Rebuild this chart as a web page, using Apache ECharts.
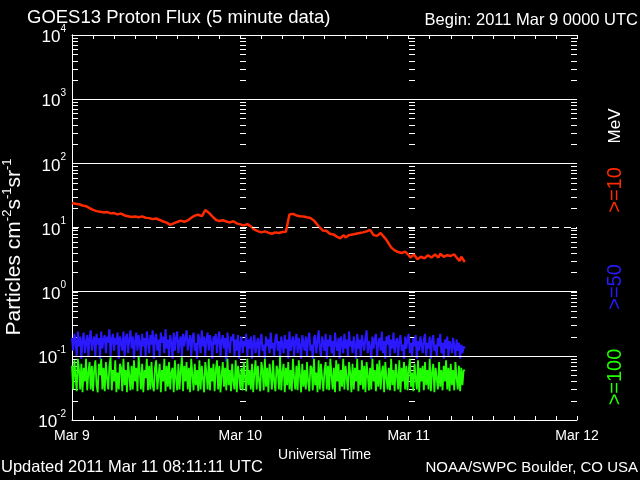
<!DOCTYPE html>
<html>
<head>
<meta charset="utf-8">
<script src="https://cdn.jsdelivr.net/npm/echarts@6/dist/echarts.min.js"></script>
<style>
html, body { margin: 0; background: #000; }
#main { width: 640px; height: 480px; }
</style>
</head>
<body>
<div id="main"></div>
<script>
// x in hours since 2011 Mar 9 0000 UTC
const dayLabels = ['Mar 9', 'Mar 10', 'Mar 11', 'Mar 12'];

// >=10 MeV, one value every 15 min
const redStep = 0.25;
const red10 = [
  24.1, 22.8, 23.5, 24.2, 23.0, 21.6, 22.0, 22.9, 21.5, 20.3,
  20.0, 19.0, 18.8, 18.3, 18.0, 17.0, 17.6, 18.1, 17.2, 16.8,
  17.5, 16.9, 16.6, 17.3, 16.8, 15.9, 16.0, 16.7, 16.5, 15.6,
  15.4, 15.8, 15.0, 14.4, 14.6, 15.3, 14.8, 14.0, 14.4, 15.1,
  14.9, 14.5, 14.2, 13.6, 14.0, 14.3, 13.5, 13.2, 13.8, 13.4,
  13.1, 12.7, 12.4, 11.7, 11.9, 11.2, 11.0, 10.6, 11.6, 12.4,
  12.2, 11.8, 12.8, 13.4, 12.3, 12.0, 12.9, 13.6, 14.2, 14.8,
  15.3, 14.7, 15.8, 16.3, 15.0, 16.5, 18.7, 18.0, 17.0, 16.0,
  14.9, 13.9, 13.2, 12.5, 12.6, 13.3, 13.0, 12.2, 12.4, 12.8,
  12.0, 11.6, 12.5, 12.0, 11.6, 11.0, 11.2, 11.6, 10.8, 10.3,
  11.3, 10.9, 10.4, 9.8, 9.3, 9.0, 8.8, 8.3, 8.4, 8.9,
  8.7, 8.1, 8.3, 8.6, 8.0, 7.8, 8.4, 8.6, 8.2, 7.9,
  8.5, 8.2, 8.6, 8.9, 16.0, 15.5, 16.3, 15.8, 15.4, 15.7,
  15.0, 14.5, 14.8, 14.2, 14.4, 14.7, 14.1, 13.6, 12.8, 12.0,
  11.0, 10.2, 9.5, 9.0, 8.6, 8.9, 8.4, 8.0, 8.2, 7.8,
  7.5, 7.2, 7.1, 6.8, 7.3, 7.6, 7.0, 7.4, 7.6, 8.0,
  7.8, 7.5, 8.0, 8.3, 8.2, 7.9, 8.4, 8.6, 8.7, 8.3,
  9.2, 8.9, 7.6, 7.3, 7.4, 7.9, 8.2, 7.6, 7.2, 6.6,
  6.0, 5.4, 4.9, 4.6, 4.4, 4.2, 4.15, 4.3, 4.0, 3.8,
  4.2, 4.0, 3.7, 3.4, 3.5, 3.8, 3.6, 3.2, 3.3, 3.5,
  3.6, 3.3, 3.4, 3.7, 3.7, 3.4, 3.5, 3.8, 3.6, 3.4,
  3.9, 4.0, 3.5, 3.3, 3.7, 3.9, 3.6, 3.4, 3.8, 3.5,
  3.3, 3.0, 3.5, 3.4, 2.9
];

// >=50 and >=100 MeV, one value every 10 min
const pStep = 1 / 6;
const blue50 = [
  0.19,0.12,0.22,0.17,0.1,0.24,0.14,0.2,0.09,0.18,0.23,0.11,0.16,0.21,0.1,0.19,0.25,0.12,0.17,0.2,
  0.1,0.22,0.15,0.19,0.09,0.24,0.13,0.18,0.21,0.11,0.2,0.16,0.26,0.1,0.18,0.22,0.12,0.19,0.15,0.23,
  0.09,0.2,0.17,0.12,0.24,0.1,0.19,0.22,0.11,0.18,0.25,0.13,0.2,0.09,0.17,0.23,0.12,0.21,0.16,0.1,
  0.22,0.14,0.19,0.1,0.24,0.17,0.11,0.21,0.15,0.25,0.09,0.19,0.22,0.12,0.18,0.1,0.23,0.16,0.2,0.11,
  0.26,0.13,0.18,0.1,0.21,0.16,0.09,0.23,0.12,0.19,0.24,0.11,0.17,0.2,0.1,0.22,0.14,0.19,0.25,0.12,
  0.17,0.21,0.1,0.19,0.23,0.12,0.16,0.09,0.22,0.18,0.11,0.25,0.14,0.2,0.1,0.18,0.23,0.12,0.21,0.16,
  0.09,0.2,0.15,0.22,0.11,0.18,0.24,0.1,0.17,0.21,0.13,0.19,0.08,0.23,0.15,0.11,0.2,0.17,0.22,0.1,
  0.18,0.12,0.21,0.09,0.16,0.2,0.11,0.17,0.14,0.22,0.1,0.18,0.13,0.2,0.09,0.16,0.21,0.11,0.15,0.19,
  0.1,0.17,0.22,0.12,0.15,0.09,0.2,0.14,0.18,0.11,0.23,0.13,0.16,0.1,0.19,0.22,0.12,0.17,0.09,0.2,
  0.15,0.11,0.21,0.13,0.18,0.09,0.24,0.12,0.16,0.2,0.1,0.17,0.22,0.11,0.19,0.14,0.09,0.21,0.16,0.12,
  0.2,0.1,0.18,0.23,0.12,0.15,0.09,0.19,0.21,0.11,0.17,0.25,0.13,0.1,0.2,0.16,0.12,0.22,0.09,0.18,
  0.14,0.21,0.11,0.17,0.1,0.23,0.15,0.12,0.19,0.09,0.2,0.16,0.11,0.22,0.13,0.18,0.1,0.24,0.14,0.17,
  0.11,0.2,0.15,0.09,0.22,0.13,0.18,0.1,0.21,0.16,0.12,0.19,0.25,0.11,0.17,0.14,0.09,0.2,0.13,0.18,
  0.22,0.1,0.16,0.19,0.12,0.24,0.11,0.17,0.09,0.2,0.15,0.21,0.1,0.18,0.13,0.23,0.11,0.16,0.19,0.1,
  0.17,0.21,0.12,0.15,0.09,0.2,0.13,0.18,0.22,0.11,0.16,0.1,0.19,0.14,0.21,0.09,0.17,0.12,0.2,0.15,
  0.11,0.18,0.22,0.1,0.16,0.13,0.2,0.09,0.17,0.21,0.12,0.15,0.1,0.19,0.14,0.22,0.11,0.16,0.09,0.18,
  0.13,0.2,0.1,0.17,0.15,0.11,0.19,0.14,0.1,0.18,0.12,0.16,0.09,0.15,0.11,0.14,0.13
];
const green100 = [
  0.07,0.03,0.085,0.05,0.028,0.09,0.06,0.03,0.075,0.027,0.065,0.04,0.09,0.029,0.055,0.08,0.03,0.07,0.028,0.06,
  0.085,0.035,0.027,0.075,0.05,0.09,0.03,0.065,0.028,0.08,0.045,0.03,0.07,0.095,0.029,0.06,0.04,0.085,0.027,0.055,
  0.03,0.075,0.065,0.028,0.09,0.035,0.06,0.027,0.08,0.05,0.029,0.07,0.03,0.085,0.04,0.065,0.028,0.1,0.055,0.03,
  0.075,0.027,0.06,0.045,0.09,0.029,0.07,0.03,0.08,0.035,0.028,0.065,0.085,0.03,0.05,0.075,0.027,0.06,0.04,0.09,
  0.028,0.07,0.033,0.08,0.03,0.055,0.065,0.027,0.085,0.045,0.029,0.075,0.03,0.06,0.095,0.028,0.07,0.04,0.08,0.03,
  0.065,0.027,0.09,0.05,0.029,0.075,0.035,0.06,0.028,0.085,0.03,0.07,0.045,0.027,0.08,0.055,0.03,0.09,0.029,0.065,
  0.04,0.075,0.028,0.06,0.085,0.03,0.07,0.027,0.05,0.08,0.033,0.065,0.029,0.09,0.035,0.06,0.028,0.075,0.04,0.03,
  0.085,0.027,0.07,0.05,0.03,0.065,0.029,0.08,0.045,0.028,0.09,0.035,0.06,0.03,0.075,0.027,0.055,0.085,0.03,0.07,
  0.04,0.028,0.08,0.06,0.029,0.09,0.033,0.065,0.027,0.075,0.05,0.03,0.085,0.04,0.028,0.07,0.06,0.03,0.1,0.029,
  0.055,0.075,0.027,0.065,0.035,0.08,0.03,0.06,0.028,0.09,0.045,0.03,0.07,0.029,0.085,0.05,0.027,0.075,0.033,0.06,
  0.03,0.08,0.04,0.028,0.07,0.065,0.029,0.09,0.035,0.055,0.027,0.085,0.03,0.075,0.045,0.028,0.06,0.08,0.03,0.07,
  0.029,0.09,0.05,0.03,0.065,0.027,0.085,0.04,0.075,0.028,0.06,0.033,0.09,0.03,0.07,0.045,0.029,0.08,0.055,0.027,
  0.075,0.03,0.065,0.04,0.09,0.028,0.06,0.035,0.085,0.03,0.07,0.027,0.08,0.05,0.029,0.065,0.03,0.09,0.04,0.06,
  0.028,0.075,0.033,0.085,0.03,0.055,0.07,0.027,0.08,0.045,0.03,0.065,0.029,0.09,0.035,0.06,0.028,0.075,0.05,0.03,
  0.085,0.027,0.065,0.04,0.08,0.03,0.07,0.029,0.06,0.09,0.033,0.055,0.028,0.075,0.045,0.03,0.085,0.027,0.065,0.04,
  0.07,0.029,0.08,0.035,0.06,0.03,0.09,0.028,0.055,0.075,0.027,0.065,0.045,0.03,0.08,0.033,0.06,0.029,0.07,0.04,
  0.085,0.03,0.065,0.028,0.075,0.035,0.06,0.029,0.08,0.045,0.03,0.07,0.028,0.065,0.035,0.06,0.058
];

const FONT = 'Liberation Sans';
const toPairs = (arr, step) => arr.map((v, i) => [i * step, v]);

// log tick marks: [hour, value, direction]
const logTicks = [];
for (let e = -2; e < 4; e++) {
  for (let k = 1; k < 10; k++) {
    const v = k * Math.pow(10, e);
    [0, 24, 48].forEach(h => logTicks.push([h, v, 1]));
    logTicks.push([72, v, -1]);
  }
}
[0, 24, 48].forEach(h => logTicks.push([h, 10000, 1]));

const chart = echarts.init(document.getElementById('main'));
chart.setOption({
  backgroundColor: '#000',
  animation: false,
  textStyle: { fontFamily: FONT },
  grid: { left: 72, right: 63, top: 35, bottom: 60, outerBoundsMode: 'none' },
  xAxis: [
    {
      type: 'value', min: 0, max: 72, interval: 3,
      axisLine: { lineStyle: { color: '#fff', width: 1 } },
      axisTick: { inside: true, length: 4, lineStyle: { color: '#fff' } },
      splitLine: { show: false },
      axisLabel: {
        color: '#fff', fontSize: 14, margin: 9,
        formatter: v => v % 24 === 0 ? dayLabels[v / 24] : ''
      },
      name: 'Universal Time', nameLocation: 'middle', nameGap: 20,
      nameTextStyle: { color: '#fff', fontSize: 14, fontFamily: FONT }
    },
    {
      type: 'value', position: 'top', min: 0, max: 72, interval: 3,
      axisLine: { lineStyle: { color: '#fff', width: 1 } },
      axisTick: { inside: true, length: 4, lineStyle: { color: '#fff' } },
      splitLine: { show: false },
      axisLabel: { show: false }
    }
  ],
  yAxis: [
    {
      type: 'log', logBase: 10, min: 0.01, max: 10000,
      axisLine: { show: true, lineStyle: { color: '#fff', width: 1 } },
      axisTick: { show: false },
      splitLine: { show: false },
      axisLabel: {
        margin: 6,
        formatter: v => '{b|10}{e|' + Math.round(Math.log10(v)) + '}',
        rich: {
          b: { color: '#fff', fontSize: 17, fontFamily: FONT, lineHeight: 22, verticalAlign: 'bottom' },
          e: { color: '#fff', fontSize: 10, fontFamily: FONT, lineHeight: 22, verticalAlign: 'top' }
        }
      }
    },
    {
      type: 'log', logBase: 10, min: 0.01, max: 10000, position: 'right',
      axisLine: { show: true, lineStyle: { color: '#fff', width: 1 } },
      axisTick: { show: false },
      splitLine: { show: false },
      axisLabel: { show: false }
    }
  ],
  series: [
    {
      name: 'ticks', type: 'custom', silent: true, clip: false,
      data: logTicks,
      renderItem: (params, api) => {
        const p = api.coord([api.value(0), api.value(1)]);
        const x = Math.round(p[0]);
        const y = Math.round(p[1]) + 0.5;
        return {
          type: 'line',
          shape: { x1: x, y1: y, x2: x + 6 * api.value(2), y2: y },
          style: { stroke: '#fff', lineWidth: 1 }
        };
      }
    },
    {
      name: '>=50', type: 'line', showSymbol: false,
      lineStyle: { color: '#2a18ff', width: 2 },
      data: toPairs(blue50, pStep)
    },
    {
      name: '>=100', type: 'line', showSymbol: false,
      lineStyle: { color: '#22ff00', width: 1.8 },
      data: toPairs(green100, pStep)
    },
    {
      name: '>=10', type: 'line', showSymbol: false,
      lineStyle: { color: '#ff2a00', width: 2.5 },
      data: toPairs(red10, redStep),
      markLine: {
        silent: true, symbol: 'none', label: { show: false },
        lineStyle: { color: '#fff', width: 1, type: 'solid' },
        data: [
          { yAxis: 1000 }, { yAxis: 100 }, { yAxis: 1 }, { yAxis: 0.1 },
          { yAxis: 10, lineStyle: { type: [7, 5], color: '#fff', width: 1 } }
        ]
      }
    }
  ],
  graphic: [
    { type: 'text', left: 27, top: 8, style: { text: 'GOES13 Proton Flux (5 minute data)', fill: '#fff', fontSize: 18.5, fontFamily: FONT } },
    { type: 'text', right: 2, top: 12, style: { text: 'Begin: 2011 Mar 9 0000 UTC', fill: '#fff', fontSize: 16.5, fontFamily: FONT } },
    { type: 'text', left: 1, top: 459, style: { text: 'Updated 2011 Mar 11 08:11:11 UTC', fill: '#fff', fontSize: 16.5, fontFamily: FONT } },
    { type: 'text', right: 2, top: 460, style: { text: 'NOAA/SWPC Boulder, CO USA', fill: '#fff', fontSize: 15, fontFamily: FONT } },
    {
      type: 'text', x: 14, y: 247, rotation: Math.PI / 2,
      style: {
        text: 'Particles cm{s|-2}s{s|-1}sr{s|-1}', fill: '#fff', fontSize: 21, fontFamily: FONT,
        align: 'center', verticalAlign: 'middle',
        rich: { s: { fill: '#fff', fontSize: 13, fontFamily: FONT, verticalAlign: 'top', lineHeight: 26 } }
      }
    },
    { type: 'text', x: 615, y: 126, rotation: Math.PI / 2, style: { text: 'MeV', fill: '#fff', fontSize: 17, fontFamily: FONT, align: 'center', verticalAlign: 'middle' } },
    { type: 'text', x: 615, y: 190, rotation: Math.PI / 2, style: { text: '>=10', fill: '#ff2a00', fontSize: 20, fontFamily: FONT, align: 'center', verticalAlign: 'middle' } },
    { type: 'text', x: 615, y: 287, rotation: Math.PI / 2, style: { text: '>=50', fill: '#2a18ff', fontSize: 20, fontFamily: FONT, align: 'center', verticalAlign: 'middle' } },
    { type: 'text', x: 615, y: 377, rotation: Math.PI / 2, style: { text: '>=100', fill: '#22ff00', fontSize: 20, fontFamily: FONT, align: 'center', verticalAlign: 'middle' } }
  ]
});
</script>
</body>
</html>
